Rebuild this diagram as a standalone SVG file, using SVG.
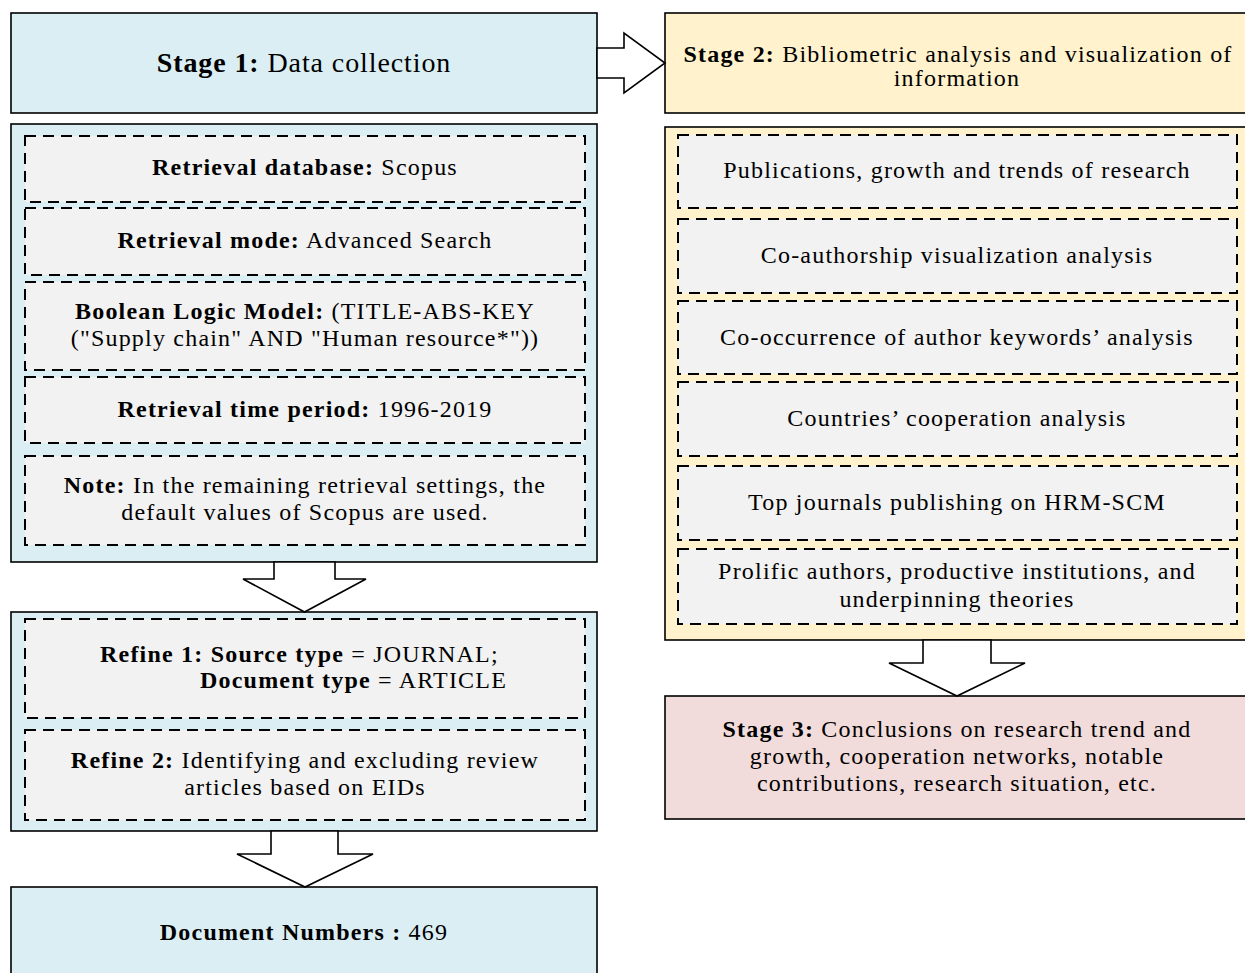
<svg xmlns="http://www.w3.org/2000/svg" width="1245" height="973" viewBox="0 0 1245 973">
<style>
text{font-family:"Liberation Serif","Times New Roman",serif;font-size:24px;letter-spacing:1.2px;fill:#000;text-anchor:middle}
.b{font-weight:bold}
.st{text-anchor:start}
.big{font-size:28px;letter-spacing:0.9px}
.blue{fill:#DAEEF3;stroke:#000;stroke-width:1.6}
.yel{fill:#FFF2CC;stroke:#000;stroke-width:1.6}
.pink{fill:#F2DCDB;stroke:#000;stroke-width:1.6}
.dash{fill:#F2F2F2;stroke:#000;stroke-width:2;stroke-dasharray:11 7}
.arr{fill:#fff;stroke:#000;stroke-width:1.6;stroke-linejoin:miter}
</style>
<rect width="1245" height="973" fill="#fff"/>

<g id="stage1">
<rect class="blue" x="11" y="13" width="586" height="100"/>
<text class="big" x="304" y="72"><tspan class="b">Stage 1:</tspan> Data collection</text>
</g>

<g id="retrieval-panel">
<rect class="blue" x="11" y="124" width="586" height="438"/>
</g>
<g id="retrieval-database">
<rect class="dash" x="25" y="136" width="560" height="66"/>
<text x="305" y="175"><tspan class="b">Retrieval database:</tspan> Scopus</text>
</g>
<g id="retrieval-mode">
<rect class="dash" x="25" y="208" width="560" height="67"/>
<text x="305" y="248"><tspan class="b">Retrieval mode:</tspan> Advanced Search</text>
</g>
<g id="boolean-model">
<rect class="dash" x="25" y="282" width="560" height="88"/>
<text x="305" y="319"><tspan class="b">Boolean Logic Model:</tspan> (TITLE-ABS-KEY</text>
<text x="305" y="346">("Supply chain" AND "Human resource*"))</text>
</g>
<g id="retrieval-time">
<rect class="dash" x="25" y="377" width="560" height="66"/>
<text x="305" y="417"><tspan class="b">Retrieval time period:</tspan> 1996-2019</text>
</g>
<g id="note">
<rect class="dash" x="25" y="456" width="560" height="89"/>
<text x="305" y="493"><tspan class="b">Note:</tspan> In the remaining retrieval settings, the</text>
<text x="305" y="520">default values of Scopus are used.</text>
</g>

<g id="refine-panel">
<rect class="blue" x="11" y="612" width="586" height="219"/>
</g>
<g id="refine1">
<rect class="dash" x="25" y="619" width="560" height="99"/>
<text class="st" x="100" y="662"><tspan class="b">Refine 1: Source type</tspan> = JOURNAL;</text>
<text class="st" x="200" y="688"><tspan class="b">Document type</tspan> = ARTICLE</text>
</g>
<g id="refine2">
<rect class="dash" x="25" y="730" width="560" height="90"/>
<text x="305" y="768"><tspan class="b">Refine 2:</tspan> Identifying and excluding review</text>
<text x="305" y="795">articles based on EIDs</text>
</g>

<g id="document-numbers">
<rect class="blue" x="11" y="887" width="586" height="100"/>
<text x="304" y="940"><tspan class="b">Document Numbers :</tspan> 469</text>
</g>

<g id="stage2">
<rect class="yel" x="665" y="13" width="590" height="100"/>
<text x="958" y="62"><tspan class="b">Stage 2:</tspan> Bibliometric analysis and visualization of</text>
<text x="957" y="86">information</text>
</g>

<g id="analysis-panel">
<rect class="yel" x="665" y="127" width="590" height="513"/>
</g>
<g id="publications">
<rect class="dash" x="678" y="135" width="559" height="73"/>
<text x="957" y="178">Publications, growth and trends of research</text>
</g>
<g id="co-authorship">
<rect class="dash" x="678" y="219" width="559" height="74"/>
<text x="957" y="263">Co-authorship visualization analysis</text>
</g>
<g id="co-occurrence">
<rect class="dash" x="678" y="301" width="559" height="73"/>
<text x="957" y="345">Co-occurrence of author keywords’ analysis</text>
</g>
<g id="countries">
<rect class="dash" x="678" y="382" width="559" height="74"/>
<text x="957" y="426">Countries’ cooperation analysis</text>
</g>
<g id="top-journals">
<rect class="dash" x="678" y="466" width="559" height="74"/>
<text x="957" y="510">Top journals publishing on HRM-SCM</text>
</g>
<g id="prolific">
<rect class="dash" x="678" y="549" width="559" height="75"/>
<text x="957" y="579">Prolific authors, productive institutions, and</text>
<text x="957" y="607">underpinning theories</text>
</g>

<g id="stage3">
<rect class="pink" x="665" y="696" width="590" height="123"/>
<text x="957" y="737"><tspan class="b">Stage 3:</tspan> Conclusions on research trend and</text>
<text x="957" y="764">growth, cooperation networks, notable</text>
<text x="957" y="791">contributions, research situation, etc.</text>
</g>

<g id="connectors">
<polygon class="arr" points="597,48 624,48 624,33 665,63 624,93 624,78 597,78"/>
<polygon class="arr" points="274,562 335,562 335,579 366,579 304.5,612 243,579 274,579"/>
<polygon class="arr" points="271,831 338,831 338,854 373,854 305,887 237,854 271,854"/>
<polygon class="arr" points="923,640 991,640 991,663 1025,663 957,696 889,663 923,663"/>
</g>
</svg>
